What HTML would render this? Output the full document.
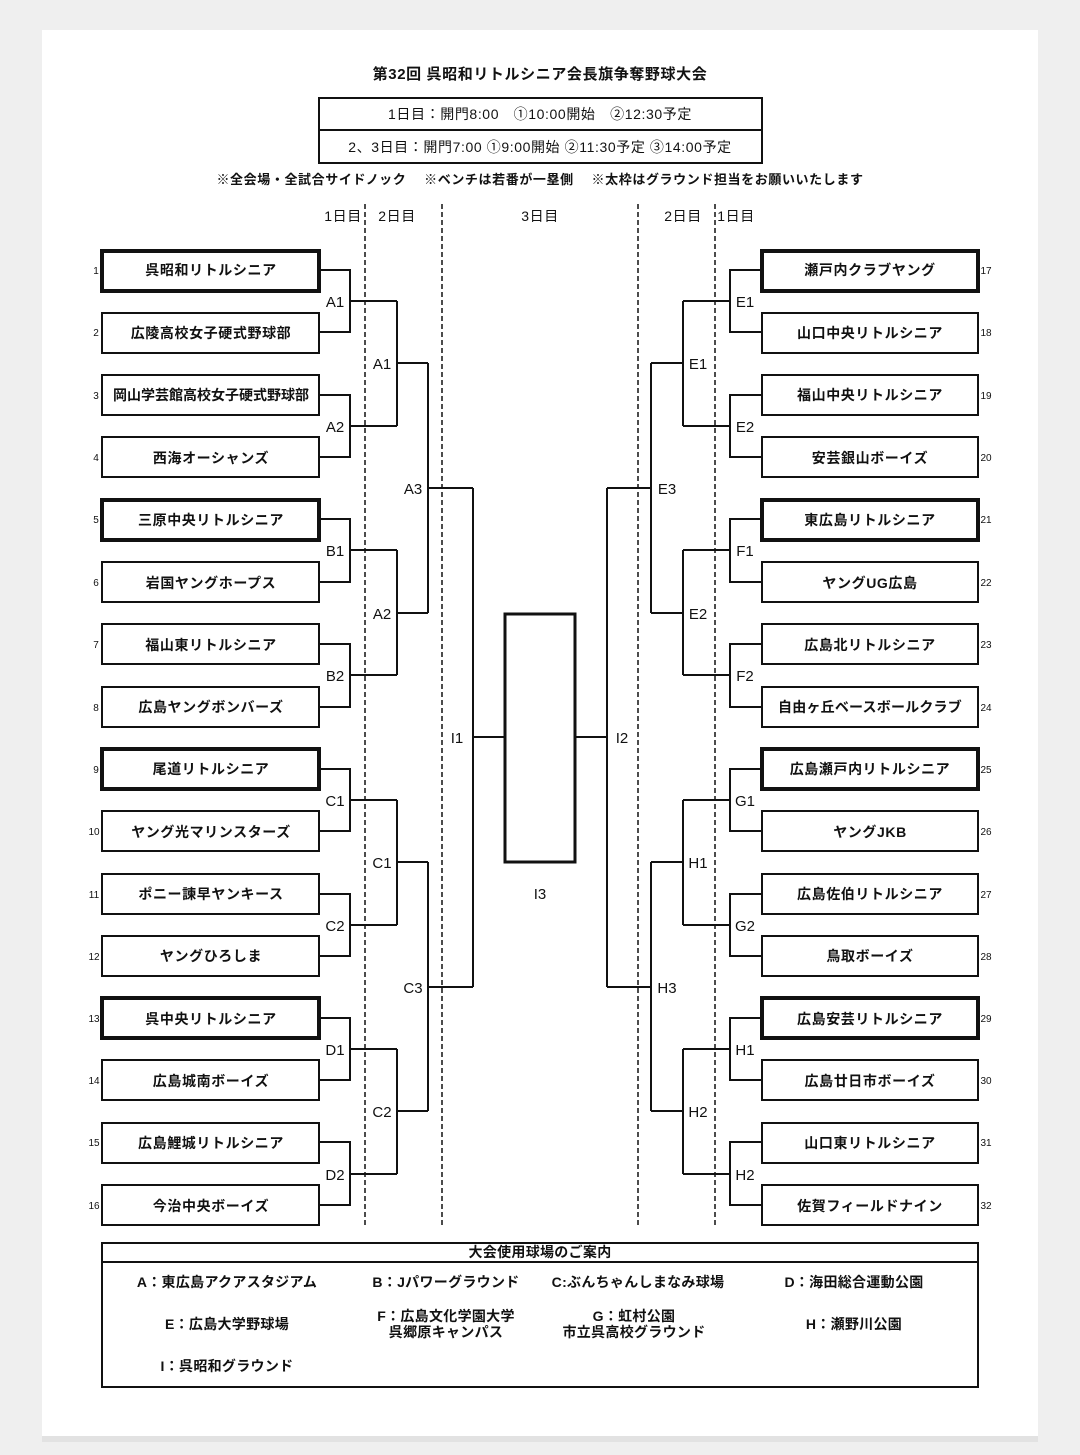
<!DOCTYPE html>
<html><head><meta charset="utf-8"><style>
html,body{margin:0;padding:0;background:#efefef;}
svg{display:block;}
text{font-family:"Liberation Sans","Noto Sans CJK JP",sans-serif;fill:#111;}
.t{font-size:14px;font-weight:bold;letter-spacing:0.6px;text-anchor:middle;}
.n{font-size:10px;text-anchor:middle;}
.l{font-size:15px;font-weight:normal;}
.ln{fill:none;stroke:#111;stroke-width:2;}
.dash{stroke:#111;stroke-width:1.5;stroke-dasharray:5,3;}
</style></head><body>
<svg width="1080" height="1455" viewBox="0 0 1080 1455" xmlns="http://www.w3.org/2000/svg">
<rect x="0" y="0" width="1080" height="1455" fill="#efefef"/>
<rect x="42" y="30" width="996" height="1408" fill="#fff"/>
<rect x="42" y="1436" width="996" height="6" fill="#e2e2e2"/>

<text x="540" y="79" class="t" style="font-size:15px">第32回 呉昭和リトルシニア会長旗争奪野球大会</text>
<rect x="319" y="98" width="443" height="65" class="ln"/>
<line x1="319" y1="130" x2="762" y2="130" class="ln"/>
<text x="540" y="119" class="t" style="font-weight:normal;font-size:14px">1日目：開門8:00　①10:00開始　②12:30予定</text>
<text x="540" y="152" class="t" style="font-weight:normal;font-size:14px">2、3日目：開門7:00 ①9:00開始 ②11:30予定 ③14:00予定</text>
<text x="540" y="184" class="t" style="font-size:13px">※全会場・全試合サイドノック　 ※ベンチは若番が一塁側　 ※太枠はグラウンド担当をお願いいたします</text>

<text x="343" y="221" class="t" style="font-weight:normal">1日目</text>
<text x="397" y="221" class="t" style="font-weight:normal">2日目</text>
<text x="540" y="221" class="t" style="font-weight:normal">3日目</text>
<text x="683" y="221" class="t" style="font-weight:normal">2日目</text>
<text x="736" y="221" class="t" style="font-weight:normal">1日目</text>

<line x1="365" y1="204" x2="365" y2="1226" class="dash"/>
<line x1="442" y1="204" x2="442" y2="1226" class="dash"/>
<line x1="638" y1="204" x2="638" y2="1226" class="dash"/>
<line x1="715" y1="204" x2="715" y2="1226" class="dash"/>

<g class="ln">
<rect x="102" y="251" width="217" height="40" style="stroke-width:4"/>
<rect x="102" y="313" width="217" height="40"/>
<rect x="102" y="375" width="217" height="40"/>
<rect x="102" y="437" width="217" height="40"/>
<rect x="102" y="500" width="217" height="40" style="stroke-width:4"/>
<rect x="102" y="562" width="217" height="40"/>
<rect x="102" y="624" width="217" height="40"/>
<rect x="102" y="687" width="217" height="40"/>
<rect x="102" y="749" width="217" height="40" style="stroke-width:4"/>
<rect x="102" y="811" width="217" height="40"/>
<rect x="102" y="874" width="217" height="40"/>
<rect x="102" y="936" width="217" height="40"/>
<rect x="102" y="998" width="217" height="40" style="stroke-width:4"/>
<rect x="102" y="1060" width="217" height="40"/>
<rect x="102" y="1123" width="217" height="40"/>
<rect x="102" y="1185" width="217" height="40"/>
<rect x="762" y="251" width="216" height="40" style="stroke-width:4"/>
<rect x="762" y="313" width="216" height="40"/>
<rect x="762" y="375" width="216" height="40"/>
<rect x="762" y="437" width="216" height="40"/>
<rect x="762" y="500" width="216" height="40" style="stroke-width:4"/>
<rect x="762" y="562" width="216" height="40"/>
<rect x="762" y="624" width="216" height="40"/>
<rect x="762" y="687" width="216" height="40"/>
<rect x="762" y="749" width="216" height="40" style="stroke-width:4"/>
<rect x="762" y="811" width="216" height="40"/>
<rect x="762" y="874" width="216" height="40"/>
<rect x="762" y="936" width="216" height="40"/>
<rect x="762" y="998" width="216" height="40" style="stroke-width:4"/>
<rect x="762" y="1060" width="216" height="40"/>
<rect x="762" y="1123" width="216" height="40"/>
<rect x="762" y="1185" width="216" height="40"/>
<rect x="505" y="614" width="70" height="248" style="stroke-width:3"/>

<path d="M319 270H350V332H319M350 301H397"/>
<path d="M319 395H350V457H319M350 426H397"/>
<path d="M319 519H350V582H319M350 550H397"/>
<path d="M319 644H350V707H319M350 675H397"/>
<path d="M319 769H350V831H319M350 800H397"/>
<path d="M319 894H350V956H319M350 925H397"/>
<path d="M319 1018H350V1080H319M350 1049H397"/>
<path d="M319 1142H350V1205H319M350 1174H397"/>
<path d="M397 301V426M397 363H428"/>
<path d="M397 550V675M397 613H428"/>
<path d="M397 800V925M397 862H428"/>
<path d="M397 1049V1174M397 1111H428"/>
<path d="M428 363V613M428 488H473"/>
<path d="M428 862V1111M428 987H473"/>
<path d="M473 488V987M473 737H505"/>
<path d="M762 270H730V332H762M730 301H683"/>
<path d="M762 395H730V457H762M730 426H683"/>
<path d="M762 519H730V582H762M730 550H683"/>
<path d="M762 644H730V707H762M730 675H683"/>
<path d="M762 769H730V831H762M730 800H683"/>
<path d="M762 894H730V956H762M730 925H683"/>
<path d="M762 1018H730V1080H762M730 1049H683"/>
<path d="M762 1142H730V1205H762M730 1174H683"/>
<path d="M683 301V426M683 363H651"/>
<path d="M683 550V675M683 613H651"/>
<path d="M683 800V925M683 862H651"/>
<path d="M683 1049V1174M683 1111H651"/>
<path d="M651 363V613M651 488H607"/>
<path d="M651 862V1111M651 987H607"/>
<path d="M607 488V987M607 737H575"/>

<rect x="102" y="1243" width="876" height="144"/>
<line x1="102" y1="1262" x2="978" y2="1262"/>
</g>

<text x="211" y="275" class="t">呉昭和リトルシニア</text>
<text x="211" y="338" class="t">広陵高校女子硬式野球部</text>
<text x="211" y="400" class="t" style="letter-spacing:0">岡山学芸館高校女子硬式野球部</text>
<text x="211" y="463" class="t">西海オーシャンズ</text>
<text x="211" y="525" class="t">三原中央リトルシニア</text>
<text x="211" y="588" class="t">岩国ヤングホープス</text>
<text x="211" y="650" class="t">福山東リトルシニア</text>
<text x="211" y="712" class="t">広島ヤングボンバーズ</text>
<text x="211" y="774" class="t">尾道リトルシニア</text>
<text x="211" y="837" class="t">ヤング光マリンスターズ</text>
<text x="211" y="899" class="t">ポニー諫早ヤンキース</text>
<text x="211" y="961" class="t">ヤングひろしま</text>
<text x="211" y="1024" class="t">呉中央リトルシニア</text>
<text x="211" y="1086" class="t">広島城南ボーイズ</text>
<text x="211" y="1148" class="t">広島鯉城リトルシニア</text>
<text x="211" y="1211" class="t">今治中央ボーイズ</text>
<text x="870" y="275" class="t">瀬戸内クラブヤング</text>
<text x="870" y="338" class="t">山口中央リトルシニア</text>
<text x="870" y="400" class="t">福山中央リトルシニア</text>
<text x="870" y="463" class="t">安芸銀山ボーイズ</text>
<text x="870" y="525" class="t">東広島リトルシニア</text>
<text x="870" y="588" class="t">ヤングUG広島</text>
<text x="870" y="650" class="t">広島北リトルシニア</text>
<text x="870" y="712" class="t" style="letter-spacing:0.2px">自由ヶ丘ベースボールクラブ</text>
<text x="870" y="774" class="t">広島瀬戸内リトルシニア</text>
<text x="870" y="837" class="t">ヤングJKB</text>
<text x="870" y="899" class="t">広島佐伯リトルシニア</text>
<text x="870" y="961" class="t">鳥取ボーイズ</text>
<text x="870" y="1024" class="t">広島安芸リトルシニア</text>
<text x="870" y="1086" class="t">広島廿日市ボーイズ</text>
<text x="870" y="1148" class="t">山口東リトルシニア</text>
<text x="870" y="1211" class="t">佐賀フィールドナイン</text>

<g class="n">
<text x="96" y="274">1</text><text x="96" y="336">2</text><text x="96" y="399">3</text><text x="96" y="461">4</text>
<text x="96" y="523">5</text><text x="96" y="586">6</text><text x="96" y="648">7</text><text x="96" y="711">8</text>
<text x="96" y="773">9</text><text x="94" y="835">10</text><text x="94" y="898">11</text><text x="94" y="960">12</text>
<text x="94" y="1022">13</text><text x="94" y="1084">14</text><text x="94" y="1146">15</text><text x="94" y="1209">16</text>
<text x="986" y="274">17</text><text x="986" y="336">18</text><text x="986" y="399">19</text><text x="986" y="461">20</text>
<text x="986" y="523">21</text><text x="986" y="586">22</text><text x="986" y="648">23</text><text x="986" y="711">24</text>
<text x="986" y="773">25</text><text x="986" y="835">26</text><text x="986" y="898">27</text><text x="986" y="960">28</text>
<text x="986" y="1022">29</text><text x="986" y="1084">30</text><text x="986" y="1146">31</text><text x="986" y="1209">32</text>
</g>

<g class="l" style="text-anchor:middle">
<text x="335" y="307">A1</text><text x="335" y="432">A2</text><text x="335" y="556">B1</text><text x="335" y="681">B2</text>
<text x="335" y="806">C1</text><text x="335" y="931">C2</text><text x="335" y="1055">D1</text><text x="335" y="1180">D2</text>
<text x="382" y="369">A1</text><text x="382" y="619">A2</text><text x="382" y="868">C1</text><text x="382" y="1117">C2</text>
<text x="413" y="494">A3</text><text x="413" y="993">C3</text>
<text x="457" y="743">I1</text>
<text x="622" y="743">I2</text>
<text x="540" y="899">I3</text>
<text x="745" y="307">E1</text><text x="745" y="432">E2</text><text x="745" y="556">F1</text><text x="745" y="681">F2</text>
<text x="745" y="806">G1</text><text x="745" y="931">G2</text><text x="745" y="1055">H1</text><text x="745" y="1180">H2</text>
<text x="698" y="369">E1</text><text x="698" y="619">E2</text><text x="698" y="868">H1</text><text x="698" y="1117">H2</text>
<text x="667" y="494">E3</text><text x="667" y="993">H3</text>
</g>

<g class="t" style="font-size:14px;letter-spacing:0.3px">
<text x="540" y="1257">大会使用球場のご案内</text>
<text x="227" y="1287">A：東広島アクアスタジアム</text>
<text x="446" y="1287">B：Jパワーグラウンド</text>
<text x="638" y="1287">C:ぶんちゃんしまなみ球場</text>
<text x="854" y="1287">D：海田総合運動公園</text>
<text x="227" y="1329">E：広島大学野球場</text>
<text x="446" y="1321">F：広島文化学園大学</text>
<text x="446" y="1337">呉郷原キャンパス</text>
<text x="634" y="1321">G：虹村公園</text>
<text x="634" y="1337">市立呉高校グラウンド</text>
<text x="854" y="1329">H：瀬野川公園</text>
<text x="227" y="1371">I：呉昭和グラウンド</text>
</g>
</svg>
</body></html>
